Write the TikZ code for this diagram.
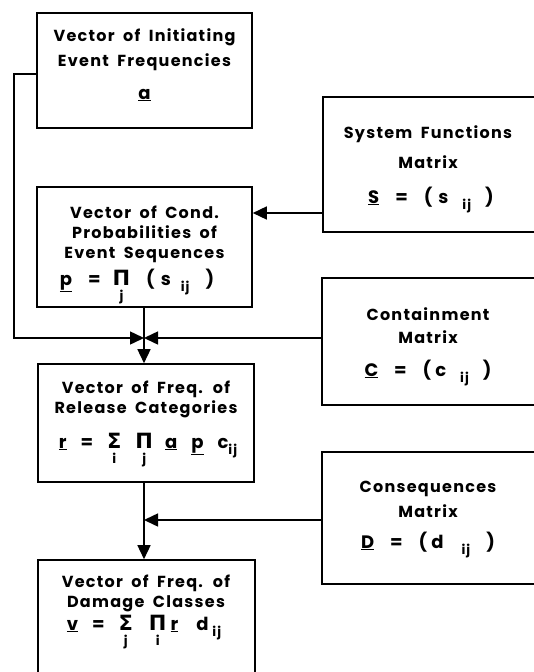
\documentclass[tikz,border=0pt]{standalone}
\usepackage{fontspec}
\setmainfont{Poppins}[LetterSpace=8, WordSpace=1.8]
\newfontfamily\gkfont{DejaVu Sans}
\usetikzlibrary{arrows.meta}
% underlined vector/matrix symbol
\newcommand{\vsym}[1]{\underline{#1}}
% horizontal gap in points
\newcommand{\gp}[1]{\hspace*{#1pt}}
% operator with its index set below
\newcommand{\opidx}[2]{\begin{tabular}[t]{@{}c@{}}{\gkfont\bfseries\fontsize{21}{21}\selectfont #1}\\[-5pt]{\fontsize{13}{13}\selectfont #2}\end{tabular}}
% lowered double index
\newcommand{\lowidx}[1]{\raisebox{-6pt}{\fontsize{13}{13}\selectfont #1}}
\tikzset{
  box/.style={draw, line width=1.6pt, inner sep=0pt},
  lbl/.style={align=center, inner sep=0pt, font=\fontsize{16}{20}\selectfont\bfseries},
  fml/.style={inner sep=0pt, anchor=base, font=\fontsize{18}{20}\selectfont\bfseries},
  conn/.style={line width=1.5pt},
  tip/.style={-{Triangle[length=14pt,width=13pt]}}
}
\begin{document}
\begin{tikzpicture}[x=1pt,y=-1pt]
\useasboundingbox (0,0) rectangle (534,672);
\clip (0,0) rectangle (534,672);

% vector boxes (left column)
\node[box, minimum width=215pt, minimum height=115pt] (vA) at (144.5,70.5) {};
\node[box, minimum width=215pt, minimum height=120pt] (vP) at (144.5,247) {};
\node[box, minimum width=216pt, minimum height=118pt] (vR) at (146,423) {};
\node[box, minimum width=217pt, minimum height=140pt] (vV) at (146.5,630) {};

% matrix boxes (right column)
\node[box, minimum width=214pt, minimum height=135pt] (mS) at (430,164.5) {};
\node[box, minimum width=214pt, minimum height=127pt] (mC) at (429,341.5) {};
\node[box, minimum width=214pt, minimum height=132pt] (mD) at (429,518) {};

% texts
\node[lbl, font=\fontsize{16}{25}\selectfont\bfseries] (tA) at (144.5,50) {Vector of Initiating\\Event Frequencies};
\node[fml] (tAf) at (144.5,99) {\vsym{a}};

\node[lbl] (tP) at (144.5,234) {Vector of Cond.\\Probabilities of\\Event Sequences};
\node[fml] (tPf) at (137,285) {\vsym{p}\gp{16}=\gp{12}\opidx{Π}{j}\gp{16}(\gp{6}s\gp{10}\lowidx{ij}\gp{16})};

\node[lbl] (tR) at (146,399) {Vector of Freq. of\\Release Categories};
\node[fml] (tRf) at (148,448) {\vsym{r}\gp{14}=\gp{14}\opidx{Σ}{i}\gp{14}\opidx{Π}{j}\gp{12}\vsym{a}\gp{14}\vsym{p}\gp{14}c\lowidx{ij}};

\node[lbl] (tV) at (146,593) {Vector of Freq. of\\Damage Classes};
\node[fml] (tVf) at (144,630) {\vsym{v}\gp{14}=\gp{14}\opidx{Σ}{j}\gp{16}\opidx{Π}{i}\gp{4}\vsym{r}\gp{18}d\gp{4}\lowidx{ij}};

\node[lbl, font=\fontsize{16}{30}\selectfont\bfseries] (tS) at (428,147) {System Functions\\Matrix};
\node[fml] (tSf) at (431,203) {\vsym{S}\gp{16}=\gp{16}(\gp{6}s\gp{14}\lowidx{ij}\gp{14})};

\node[lbl, font=\fontsize{16}{23}\selectfont\bfseries] (tC) at (428,326) {Containment\\Matrix};
\node[fml] (tCf) at (428,376) {\vsym{C}\gp{16}=\gp{16}(\gp{4}c\gp{14}\lowidx{ij}\gp{14})};

\node[lbl, font=\fontsize{16}{25}\selectfont\bfseries] (tD) at (428,499) {Consequences\\Matrix};
\node[fml] (tDf) at (428,548) {\vsym{D}\gp{16}=\gp{16}(\gp{4}d\gp{18}\lowidx{ij}\gp{16})};

% junction above the release-category box
\coordinate (jn) at (144,338);
\coordinate (jr) at (144,520);

% connectors
\draw[conn, tip] (vA.west |- 0,74) -- (14,74) -- (14,338) -- (jn);
\draw[conn, tip] (mC.west |- jn) -- (jn);
\draw[conn, tip] (vP.south -| jn) -- (vR.north -| jn);
\draw[conn, tip] (mS.west |- 0,213) -- (vP.east |- 0,213);
\draw[conn, tip] (vR.south -| jr) -- (vV.north -| jr);
\draw[conn, tip] (mD.west |- jr) -- (jr);
\end{tikzpicture}
\end{document}
